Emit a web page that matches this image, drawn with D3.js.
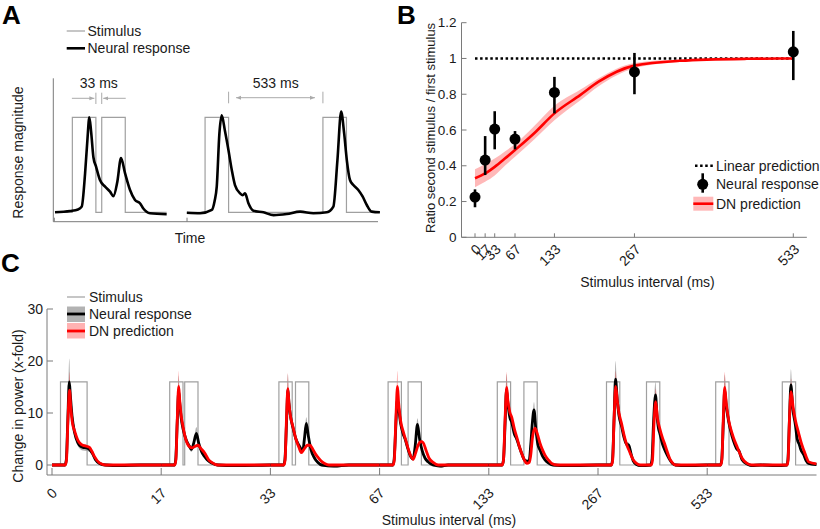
<!DOCTYPE html>
<html><head><meta charset="utf-8">
<script src="https://cdn.jsdelivr.net/npm/d3@7"></script>
<style>
html,body{margin:0;padding:0;background:#fff;}
text{font-family:"Liberation Sans",Arial,Helvetica,sans-serif;fill:#1a1a1a;}
</style></head>
<body>
<svg id="fig" width="820" height="529"></svg>
<script>
// ---------------- DATA ----------------
const stimDur = 133;              // ms, stimulus duration
// Panel A
const intervalsA = [33, 533];
const segOffsetA = [0, 750];      // ms offset of each example on the time axis
const respA33 = [[-98,0],[-13,0.014],[32,0.03],[53,0.06],[72,0.41],[85,0.76],[96,1.0],[106,0.85],[119,0.58],[134,0.48],[156,0.34],[185,0.27],[213,0.217],[232,0.17],[254,0.32],[275,0.57],[298,0.41],[326,0.235],[354,0.13],[382,0.095],[401,0.04],[439,-0.01],[533,-0.02]];
const respA533 = [[-103,-0.005],[-28,-0.01],[38,0.025],[54,0.12],[66,0.27],[81,0.83],[94,1.02],[113,0.85],[132,0.656],[151,0.445],[169,0.287],[198,0.2],[213,0.18],[226,0.2],[245,0.095],[273,0.017],[330,0],[387,-0.03],[462,-0.018],[537,0.007],[612,-0.01],[688,0],[725,0.06],[748,0.55],[769,1.06],[786,0.83],[801,0.55],[819,0.34],[838,0.287],[866,0.235],[891,0.164],[914,0.077],[942,0.007],[988,0]];

// Panel B
const intervalsB = [0, 17, 33, 67, 133, 267, 533];
const ratioMean = [0.225, 0.432, 0.605, 0.549, 0.810, 0.925, 1.037];
const ratioLow  = [0.168, 0.348, 0.492, 0.492, 0.693, 0.800, 0.879];
const ratioHigh = [0.268, 0.566, 0.705, 0.594, 0.897, 1.031, 1.154];
const dnT    = [0, 17, 33, 50, 67, 100, 133, 176, 207, 267, 343, 455, 533];
const dnMean = [0.33, 0.357, 0.394, 0.44, 0.488, 0.585, 0.693, 0.795, 0.87, 0.96, 0.987, 0.998, 1.0];
const dnLow  = [0.28, 0.31, 0.345, 0.40, 0.45, 0.55, 0.655, 0.765, 0.845, 0.945, 0.98, 0.995, 0.998];
const dnHigh = [0.38, 0.41, 0.44, 0.48, 0.52, 0.625, 0.735, 0.825, 0.89, 0.975, 0.994, 1.001, 1.002];
const yTicksB = [0, 0.2, 0.4, 0.6, 0.8, 1, 1.2];
const linearPrediction = 1;

// Panel C  ([time ms from first onset, value, half-width of band])
const intervalsC = [0, 17, 33, 67, 133, 267, 533];
const yTicksC = [0, 10, 20, 30];
const stimHeightC = 16;
const neuralC0 = [[-85,0,0.3],[45,0,0.3],[58,1,0.5],[72,8,1.5],[88,16,4.5],[98,13.5,1.5],[115,9.5,0.8],[140,6.3,0.6],[173,4.3,0.6],[200,3.6,0.6],[223,3.4,0.6],[260,3.3,0.6],[290,3.0,0.5],[320,2.2,0.4],[350,1.0,0.3],[390,0.3,0.3],[450,0,0.3],[600,-0.1,0.3],[800,0,0.3],[1007,0,0.3]];
const dnC0 = [[-85,0,0.15],[48,0,0.15],[60,1,0.3],[75,9,1],[90,14.4,3.5],[103,11,1],[120,8,0.5],[140,6.6,0.4],[173,4.8,0.3],[200,4.1,0.3],[223,3.8,0.3],[260,3.6,0.3],[290,3.4,0.3],[315,2.6,0.3],[340,1.6,0.2],[390,0.4,0.15],[450,0,0.15],[1007,0,0.15]];
const neuralC17 = [[-85,0,0.3],[48,0,0.3],[60,1,0.5],[75,8,1.5],[90,14.2,3],[100,12,1.2],[115,9,0.8],[133,7,0.6],[165,4.8,0.5],[200,3.5,0.5],[217,3.0,0.5],[240,4.2,0.6],[267,6.1,1.2],[290,4.2,0.6],[320,2.5,0.4],[350,1.6,0.3],[380,0.9,0.3],[420,0.4,0.3],[480,0,0.3],[650,-0.1,0.3],[1007,0,0.3]];
const dnC17 = [[-85,0,0.15],[50,0,0.15],[62,1,0.3],[76,9,1],[90,15.1,3],[100,12.5,1],[115,9.5,0.5],[133,7.4,0.4],[160,5,0.3],[200,3.5,0.3],[225,3.3,0.3],[255,3.6,0.3],[283,3.8,0.3],[310,3.2,0.3],[350,2.3,0.3],[390,1.0,0.2],[420,0.5,0.15],[480,0,0.15],[1007,0,0.15]];
const neuralC33 = [[-85,0,0.3],[48,0,0.3],[60,1,0.5],[76,8,1.5],[90,14.5,3],[100,12,1.2],[115,9.5,0.8],[140,7.2,0.6],[170,5,0.5],[200,3.8,0.5],[225,3.0,0.5],[240,2.9,0.5],[255,5,0.6],[274,8.0,1.2],[295,5.5,0.6],[320,3,0.4],[357,1.3,0.3],[390,0.5,0.3],[430,0,0.3],[550,-0.2,0.3],[700,0,0.3],[1007,0,0.3]];
const dnC33 = [[-85,0,0.15],[50,0,0.15],[62,1,0.3],[76,9,1],[90,14.7,3],[100,12,1],[115,9.5,0.5],[140,7.4,0.4],[170,5,0.3],[200,3.4,0.3],[224,2.4,0.3],[250,3.0,0.3],[285,3.8,0.3],[310,3.8,0.3],[340,3.0,0.3],[370,2.0,0.3],[390,1.5,0.2],[420,0.8,0.15],[457,0.3,0.15],[500,0,0.15],[1007,0,0.15]];
const neuralC67 = [[-85,0,0.3],[48,0,0.3],[60,1,0.5],[76,7,1.2],[92,12.5,2],[105,11,1],[125,8,0.7],[150,6,0.5],[170,5,0.5],[200,3,0.4],[230,1.5,0.4],[250,1.2,0.4],[270,3.5,0.6],[294,7.8,1.2],[315,5,0.6],[340,2.8,0.4],[370,1.3,0.3],[400,0.6,0.3],[450,0,0.3],[520,-0.2,0.3],[600,0,0.3],[1007,0,0.3]];
const dnC67 = [[-85,0,0.15],[50,0,0.15],[62,1,0.3],[78,9,1],[94,15.1,3],[105,12,1],[125,8.5,0.5],[150,6.5,0.4],[167,5.4,0.3],[200,3.2,0.3],[230,1.6,0.3],[250,1.1,0.2],[275,2.3,0.3],[300,3.8,0.3],[330,4.5,0.3],[350,4.3,0.3],[380,2.8,0.3],[410,1.3,0.2],[450,0.5,0.15],[500,0,0.15],[1007,0,0.15]];
const neuralC133 = [[-85,0,0.3],[48,0,0.3],[62,1,0.5],[78,8,1.5],[92,14.5,3],[105,12,1.2],[125,9.2,0.8],[144,8.2,0.6],[170,6,0.5],[194,5,0.5],[220,3.5,0.4],[244,2.2,0.4],[270,1,0.3],[300,0.7,0.3],[320,1,0.4],[335,4,0.6],[350,8,0.8],[367,10.6,1.5],[385,7,0.8],[405,4,0.5],[427,2.9,0.4],[450,1.8,0.3],[477,1,0.3],[510,0.4,0.3],[560,0,0.3],[700,-0.1,0.3],[1007,0,0.3]];
const dnC133 = [[-85,0,0.15],[50,0,0.15],[62,1,0.3],[78,9,1],[94,14.9,3],[105,12.5,0.8],[125,10.2,0.5],[144,9.2,0.4],[170,7,0.3],[194,5.4,0.3],[220,3.6,0.3],[244,2.2,0.2],[270,1,0.2],[294,0.3,0.15],[320,0.5,0.15],[335,2,0.3],[350,5,0.5],[377,7.1,0.6],[400,6,0.4],[427,4.2,0.3],[450,3,0.3],[477,1.9,0.2],[510,1,0.2],[544,0.3,0.15],[600,0,0.15],[1007,0,0.15]];
const neuralC267 = [[-85,0,0.3],[48,0,0.3],[60,1,0.5],[76,9,1.5],[90,16.5,3.5],[110,12,1.2],[125,9.5,0.8],[150,7.5,0.6],[175,5.3,0.5],[200,4.0,0.5],[223,3.8,0.5],[245,2.2,0.4],[267,0.8,0.3],[300,0.1,0.3],[340,-0.1,0.3],[440,0,0.3],[455,1,0.5],[470,8,1.2],[490,13.5,2.5],[505,9.5,1],[520,7,0.6],[533,6.1,0.5],[560,4,0.4],[583,2.9,0.4],[610,1.8,0.3],[633,1.0,0.3],[660,0.3,0.3],[690,0,0.3],[800,-0.1,0.3],[1007,0,0.3]];
const dnC267 = [[-85,0,0.15],[50,0,0.15],[62,1,0.3],[76,9,1],[92,15.1,3],[110,12,0.8],[125,10,0.5],[150,8,0.4],[175,5.8,0.3],[200,4.0,0.3],[230,2.6,0.2],[267,1.0,0.2],[300,0.3,0.15],[340,0,0.15],[448,0,0.15],[460,1,0.3],[475,8,0.8],[492,12.2,2.5],[510,9,0.8],[533,7.0,0.4],[560,5.2,0.3],[583,4.0,0.3],[610,2.4,0.2],[633,1.2,0.2],[660,0.4,0.15],[690,0,0.15],[1007,0,0.15]];
const neuralC533 = [[-85,0,0.3],[48,0,0.3],[60,1,0.5],[76,8,1.5],[90,14.4,3],[105,11.5,1],[130,8.3,0.6],[164,5.5,0.5],[190,4,0.4],[214,3,0.4],[230,2.8,0.4],[264,1,0.3],[314,0.2,0.3],[360,-0.1,0.3],[450,0,0.3],[600,-0.1,0.3],[712,0,0.3],[722,1,0.5],[738,9,1.5],[752,15.4,3],[770,11,1],[797,7.7,0.6],[815,5,0.5],[837,3.9,0.5],[850,3.0,0.4],[880,2.0,0.3],[905,0.8,0.3],[930,0.3,0.3],[1007,0.1,0.3]];
const dnC533 = [[-85,0,0.15],[50,0,0.15],[62,1,0.3],[76,9,1],[90,14.9,3],[105,12,0.8],[130,8.6,0.4],[164,6.1,0.3],[190,4.6,0.3],[214,3.5,0.3],[240,2.3,0.2],[264,1.3,0.2],[314,0.3,0.15],[360,0,0.15],[714,0,0.15],[724,1,0.3],[738,9,1],[754,14.1,2.5],[775,11,0.8],[797,8.6,0.4],[830,6.1,0.3],[855,4.3,0.3],[880,2.9,0.3],[905,1.6,0.2],[930,0.6,0.15],[1007,0.2,0.15]];
const neuralC = [neuralC0, neuralC17, neuralC33, neuralC67, neuralC133, neuralC267, neuralC533];
const dnC = [dnC0, dnC17, dnC33, dnC67, dnC133, dnC267, dnC533];

// ---------------- STYLE ----------------
const AXIS = "#7a7a7a", STIM = "#a0a0a0", RED = "#ff0000";
const svg = d3.select("#fig");

function stimPoints(iv, t0, t1){
  // stimulus time course: two pulses of stimDur separated by iv (iv=0 -> one long pulse)
  const p = [[t0,0],[0,0],[0,1]];
  if (iv === 0) { p.push([2*stimDur,1],[2*stimDur,0]); }
  else { p.push([stimDur,1],[stimDur,0],[stimDur+iv,0],[stimDur+iv,1],[2*stimDur+iv,1],[2*stimDur+iv,0]); }
  p.push([t1,0]);
  return p;
}
function panelLetter(t,x,y){ svg.append("text").attr("x",x).attr("y",y).attr("font-size",26).attr("font-weight","bold").style("fill","#000").text(t); }

// ================= PANEL A =================
(function(){
  const g = svg.append("g");
  const x = d3.scaleLinear().domain([-102, 1738]).range([54.3, 379.9]);
  const y = d3.scaleLinear().domain([0, 1]).range([212.3, 117.3]);
  const axL = 53.3, axB = 221.7;
  g.append("line").attr("x1",axL).attr("x2",axL).attr("y1",78.3).attr("y2",axB).attr("stroke",AXIS);
  g.append("line").attr("x1",axL).attr("x2",378).attr("y1",axB).attr("y2",axB).attr("stroke",AXIS);
  [-102, 648].forEach(t=>g.append("line").attr("x1",x(t)).attr("x2",x(t)).attr("y1",axB).attr("y2",axB-4).attr("stroke",AXIS));
  const resp = [respA33, respA533];
  const line = d3.line().x(d=>x(d[0])).y(d=>y(d[1])).curve(d3.curveMonotoneX);
  intervalsA.forEach((iv,i)=>{
    const off = segOffsetA[i];
    const r = resp[i];
    const sp = stimPoints(iv, r[0][0], r[r.length-1][0]).map(d=>[d[0]+off,d[1]]);
    g.append("path").attr("d", d3.line().x(d=>x(d[0])).y(d=>y(d[1]))(sp)).attr("fill","none").attr("stroke",STIM).attr("stroke-width",1.2);
    g.append("path").attr("d", line(r.map(d=>[d[0]+off,d[1]]))).attr("fill","none").attr("stroke","#000").attr("stroke-width",2.6).attr("stroke-linejoin","round");
  });
  // annotations
  const defs = svg.append("defs");
  defs.append("marker").attr("id","arr").attr("viewBox","0 0 10 10").attr("refX",10).attr("refY",5)
    .attr("markerWidth",5).attr("markerHeight",5).attr("orient","auto-start-reverse").attr("markerUnits","userSpaceOnUse")
    .append("path").attr("d","M0,1 L10,5 L0,9 z").attr("fill","#aaa");
  const AC = "#aaaaaa";
  // 33 ms
  const e1 = x(stimDur), s2 = x(stimDur+intervalsA[0]);
  [e1, s2].forEach(px=>g.append("line").attr("x1",px).attr("x2",px).attr("y1",92.7).attr("y2",104).attr("stroke",AC));
  g.append("line").attr("x1",e1-24).attr("x2",e1-1.5).attr("y1",98.3).attr("y2",98.3).attr("stroke",AC).attr("marker-end","url(#arr)");
  g.append("line").attr("x1",s2+24).attr("x2",s2+1.5).attr("y1",98.3).attr("y2",98.3).attr("stroke",AC).attr("marker-end","url(#arr)");
  g.append("text").attr("x",(e1+s2)/2).attr("y",82.7).attr("dy","0.35em").attr("text-anchor","middle").attr("font-size",14).text(intervalsA[0]+" ms");
  // 533 ms
  const f1 = x(segOffsetA[1]+stimDur), f2 = x(segOffsetA[1]+stimDur+intervalsA[1]);
  [f1, f2].forEach(px=>g.append("line").attr("x1",px).attr("x2",px).attr("y1",91.7).attr("y2",103.3).attr("stroke",AC));
  g.append("line").attr("x1",f1+7.5).attr("x2",f2-8).attr("y1",97.7).attr("y2",97.7).attr("stroke",AC).attr("marker-start","url(#arr)").attr("marker-end","url(#arr)");
  g.append("text").attr("x",(f1+f2)/2).attr("y",82.7).attr("dy","0.35em").attr("text-anchor","middle").attr("font-size",14).text(intervalsA[1]+" ms");
  // labels
  g.append("text").attr("transform","translate(18.3,152.5) rotate(-90)").attr("dy","0.35em").attr("text-anchor","middle").attr("font-size",14).text("Response magnitude");
  g.append("text").attr("x",190).attr("y",238.3).attr("dy","0.35em").attr("text-anchor","middle").attr("font-size",14).text("Time");
  // legend
  g.append("line").attr("x1",66.7).attr("x2",85).attr("y1",31).attr("y2",31).attr("stroke",STIM).attr("stroke-width",1.2);
  g.append("line").attr("x1",66.7).attr("x2",85).attr("y1",48.3).attr("y2",48.3).attr("stroke","#000").attr("stroke-width",2.6);
  g.append("text").attr("x",87.5).attr("y",31).attr("dy","0.35em").attr("font-size",14).text("Stimulus");
  g.append("text").attr("x",87.5).attr("y",48.3).attr("dy","0.35em").attr("font-size",14).text("Neural response");
  panelLetter("A", 2, 24);
})();

// ================= PANEL B =================
(function(){
  const g = svg.append("g");
  const x = d3.scaleLinear().domain([0, 533]).range([475, 793.3]);
  const y = d3.scaleLinear().domain([0, 1.2]).range([237.3, 22.7]);
  const axL = x(-22.6), axR = x(555.7), axB = y(0);
  g.append("line").attr("x1",axL).attr("x2",axL).attr("y1",y(1.2)).attr("y2",axB).attr("stroke",AXIS);
  g.append("line").attr("x1",axL).attr("x2",axR).attr("y1",axB).attr("y2",axB).attr("stroke",AXIS);
  yTicksB.forEach(v=>{
    g.append("line").attr("x1",axL).attr("x2",axL+5).attr("y1",y(v)).attr("y2",y(v)).attr("stroke",AXIS);
    g.append("text").attr("x",axL-5).attr("y",y(v)).attr("dy","0.35em").attr("text-anchor","end").attr("font-size",13.5).text(d3.format("~g")(v));
  });
  intervalsB.forEach(v=>{
    g.append("line").attr("x1",x(v)).attr("x2",x(v)).attr("y1",axB).attr("y2",axB-4).attr("stroke",AXIS);
    g.append("text").attr("transform",`translate(${x(v)+7},${axB+13}) rotate(-45)`).attr("text-anchor","end").attr("font-size",14).text(v);
  });
  g.append("text").attr("transform","translate(430,128) rotate(-90)").attr("dy","0.35em").attr("text-anchor","middle").attr("font-size",13).text("Ratio second stimulus / first stimulus");
  g.append("text").attr("x",647.5).attr("y",281.7).attr("dy","0.35em").attr("text-anchor","middle").attr("font-size",14).text("Stimulus interval (ms)");
  // DN band + line
  const dn = dnT.map((t,i)=>({t, m:dnMean[i], lo:dnLow[i], hi:dnHigh[i]}));
  g.append("path").attr("d", d3.area().x(d=>x(d.t)).y0(d=>y(d.lo)).y1(d=>y(d.hi)).curve(d3.curveMonotoneX)(dn)).attr("fill",RED).attr("fill-opacity",0.28);
  // linear prediction
  g.append("line").attr("x1",x(0)).attr("x2",x(533)).attr("y1",y(linearPrediction)).attr("y2",y(linearPrediction)).attr("stroke","#000").attr("stroke-width",2.5).attr("stroke-dasharray","2.5,2.6");
  g.append("path").attr("d", d3.line().x(d=>x(d.t)).y(d=>y(d.m)).curve(d3.curveMonotoneX)(dn)).attr("fill","none").attr("stroke",RED).attr("stroke-width",2.6);
  // neural response points
  intervalsB.forEach((t,i)=>{
    g.append("line").attr("x1",x(t)).attr("x2",x(t)).attr("y1",y(ratioLow[i])).attr("y2",y(ratioHigh[i])).attr("stroke","#000").attr("stroke-width",2.6);
    g.append("circle").attr("cx",x(t)).attr("cy",y(ratioMean[i])).attr("r",5.5).attr("fill","#000");
  });
  // legend
  g.append("line").attr("x1",695).attr("x2",713.5).attr("y1",165.7).attr("y2",165.7).attr("stroke","#000").attr("stroke-width",2.5).attr("stroke-dasharray","2.5,2.6");
  g.append("line").attr("x1",702.7).attr("x2",702.7).attr("y1",173.3).attr("y2",192.7).attr("stroke","#000").attr("stroke-width",2.6);
  g.append("circle").attr("cx",702.7).attr("cy",184.3).attr("r",5.5).attr("fill","#000");
  g.append("rect").attr("x",693.3).attr("y",196.7).attr("width",20).attr("height",14).attr("fill",RED).attr("fill-opacity",0.28);
  g.append("line").attr("x1",693.3).attr("x2",713.3).attr("y1",203.7).attr("y2",203.7).attr("stroke",RED).attr("stroke-width",2.6);
  [["Linear prediction",165.7],["Neural response",184.3],["DN prediction",204]].forEach(([s,yy])=>
    g.append("text").attr("x",716).attr("y",yy).attr("dy","0.35em").attr("font-size",14).text(s));
  panelLetter("B", 397, 24);
})();

// ================= PANEL C =================
(function(){
  const g = svg.append("g");
  const segLen = 1092, pre = 85;
  const x = d3.scaleLinear().domain([0, 7*segLen]).range([52, 52+7*segLen*0.1]);
  const y = d3.scaleLinear().domain([0, 30]).range([465, 309]);
  const axL = 47, axB = 475, axR = 816.5;
  g.append("line").attr("x1",axL).attr("x2",axL).attr("y1",y(30)).attr("y2",axB).attr("stroke",AXIS);
  g.append("line").attr("x1",axL).attr("x2",axR).attr("y1",axB).attr("y2",axB).attr("stroke",AXIS);
  yTicksC.forEach(v=>{
    g.append("line").attr("x1",axL).attr("x2",axL+6).attr("y1",y(v)).attr("y2",y(v)).attr("stroke",AXIS);
    g.append("text").attr("x",axL-4).attr("y",y(v)).attr("dy","0.35em").attr("text-anchor","end").attr("font-size",14).text(v);
  });
  intervalsC.forEach((iv,k)=>{
    const px = x(k*segLen);
    g.append("line").attr("x1",px).attr("x2",px).attr("y1",axB).attr("y2",axB-7).attr("stroke",AXIS);
    g.append("text").attr("transform",`translate(${px+6},${axB+19}) rotate(-45)`).attr("text-anchor","end").attr("font-size",14).text(iv);
  });
  g.append("text").attr("transform","translate(18,406) rotate(-90)").attr("dy","0.35em").attr("text-anchor","middle").attr("font-size",14).text("Change in power (x-fold)");
  g.append("text").attr("x",449).attr("y",520).attr("dy","0.35em").attr("text-anchor","middle").attr("font-size",14).text("Stimulus interval (ms)");

  const gx = (k,t)=>x(k*segLen + pre + t);
  const bands = g.append("g"), stims = g.append("g"), lines = g.append("g");
  intervalsC.forEach((iv,k)=>{
    const nr = neuralC[k], dn = dnC[k];
    const area = d3.area().x(d=>gx(k,d[0])).y0(d=>y(d[1]-d[2])).y1(d=>y(d[1]+d[2])).curve(d3.curveMonotoneX);
    const ln = d3.line().x(d=>gx(k,d[0])).y(d=>y(d[1])).curve(d3.curveMonotoneX);
    bands.append("path").attr("d",area(nr)).attr("fill","#000").attr("fill-opacity",0.3);
    bands.append("path").attr("d",area(dn)).attr("fill",RED).attr("fill-opacity",0.3);
    const sp = stimPoints(iv, -pre, segLen-pre);
    stims.append("path").attr("d", d3.line().x(d=>gx(k,d[0])).y(d=>y(d[1]*stimHeightC))(sp)).attr("fill","none").attr("stroke",STIM).attr("stroke-width",1.2);
    lines.append("path").attr("d",ln(nr)).attr("fill","none").attr("stroke","#000").attr("stroke-width",2.8).attr("stroke-linejoin","round");
    lines.append("path").attr("d",ln(dn)).attr("fill","none").attr("stroke",RED).attr("stroke-width",2.8).attr("stroke-linejoin","round");
  });
  // legend
  g.append("line").attr("x1",67).attr("x2",85).attr("y1",297).attr("y2",297).attr("stroke",STIM).attr("stroke-width",1.2);
  g.append("rect").attr("x",67).attr("y",306.5).attr("width",18).attr("height",15.5).attr("fill","#000").attr("fill-opacity",0.3);
  g.append("line").attr("x1",67).attr("x2",85).attr("y1",314).attr("y2",314).attr("stroke","#000").attr("stroke-width",2.8);
  g.append("rect").attr("x",67).attr("y",323).attr("width",18).attr("height",15.5).attr("fill",RED).attr("fill-opacity",0.3);
  g.append("line").attr("x1",67).attr("x2",85).attr("y1",331).attr("y2",331).attr("stroke",RED).attr("stroke-width",2.8);
  [["Stimulus",297],["Neural response",314],["DN prediction",331]].forEach(([s,yy])=>
    g.append("text").attr("x",89).attr("y",yy).attr("dy","0.35em").attr("font-size",14).text(s));
  panelLetter("C", 1, 272);
})();
</script>
</body></html>
